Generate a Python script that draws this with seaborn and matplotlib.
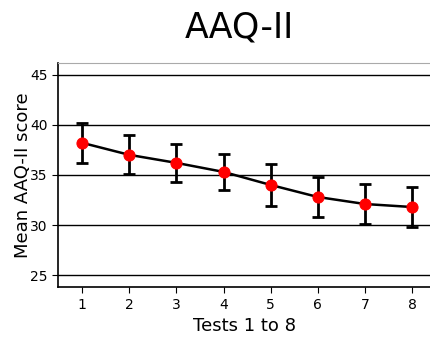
import numpy as np
import pandas as pd
import seaborn as sns
import matplotlib.pyplot as plt

# data
tests = [1, 2, 3, 4, 5, 6, 7, 8]
mean_score = [38.2, 37.0, 36.2, 35.3, 34.0, 32.8, 32.1, 31.8]
err = [2.0, 1.95, 1.9, 1.8, 2.1, 2.0, 2.0, 2.0]

sns.set_style('white')
plt.rcParams['text.color'] = 'black'
plt.rcParams['axes.labelcolor'] = 'black'
plt.rcParams['xtick.color'] = 'black'
plt.rcParams['ytick.color'] = 'black'
fig, ax = plt.subplots(figsize=(4.3, 3.38), dpi=100)
fig.subplots_adjust(left=0.135, right=1.0, top=0.815, bottom=0.15)

df = pd.DataFrame({'test': tests, 'score': mean_score})
ax.errorbar(tests, mean_score, yerr=err, fmt='none', ecolor='black',
            elinewidth=2, capsize=4, capthick=2, zorder=3)
sns.lineplot(data=df, x='test', y='score', color='black', linewidth=1.8,
             marker='o', markersize=8, markerfacecolor='red',
             markeredgecolor='red', ax=ax, zorder=4)

ax.set_xlim(0.49, 8.38)
ax.set_ylim(23.8, 46.2)
ax.set_yticks([25, 30, 35, 40, 45])
ax.set_xticks(tests)
for y in [25, 30, 35, 40, 45]:
    ax.axhline(y, color='black', linewidth=1, zorder=1)

ax.set_title('AAQ-II', fontsize=25, pad=18, color='black', x=0.487)
ax.set_xlabel('Tests 1 to 8', fontsize=13)
ax.set_ylabel('Mean AAQ-II score', fontsize=13, labelpad=-1)
ax.tick_params(axis='both', labelsize=10, length=4, color='black',
               labelcolor='black', bottom=True, left=True)
ax.spines['right'].set_visible(False)
ax.spines['top'].set_color('#aaaaaa')
ax.spines['left'].set_color('black')
ax.spines['bottom'].set_color('black')
ax.spines['left'].set_linewidth(1.2)
ax.spines['bottom'].set_linewidth(1.2)

plt.savefig('out.png', dpi=100)
